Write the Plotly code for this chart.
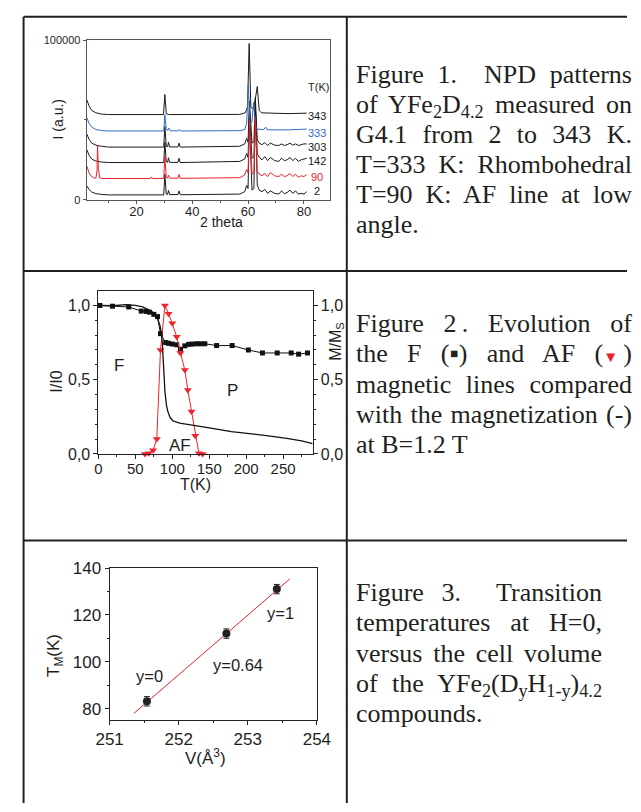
import json
import plotly.graph_objects as go

W, H = 641, 812

# ---------------- Figure 1 : NPD patterns of YFe2D4.2 ----------------
two_theta_low = [2.3, 3, 4, 5.5, 7.5, 10, 29.8, 30.2, 30.7, 31.2, 31.5, 31.9, 34.9, 35.3, 35.7, 52, 57,
                 58.8, 59.5, 60.0, 60.5, 61.4, 62.1, 62.6, 63.3, 64, 65, 66, 67, 68, 69.5, 71, 72, 73, 74,
                 75, 76, 77, 78, 79, 80, 81]
I_2K = [8600, 6500, 4800, 3800, 3300, 3000, 3000, 16000, 3500, 3300, 5800, 3200, 3200, 5500, 3100, 3200,
        3500, 5000, 9000, 7000, 52000, 6000, 7000, 60000, 9000, 6000, 5000, 6500, 4000, 5500, 4000, 3500,
        5500, 3800, 4500, 6000, 4000, 5500, 3500, 4000, 3500, 5000]
I_142K = [31300, 28000, 25500, 24200, 23600, 23300, 23300, 36000, 23800, 23500, 26300, 23400, 23400, 26000,
          23300, 23500, 24000, 25500, 29000, 26500, 56000, 26000, 27000, 58000, 29000, 26500, 25000, 27000,
          24500, 26500, 24500, 24000, 26000, 24500, 25000, 26500, 24500, 26000, 24000, 25000, 25500, 26000]
I_303K = [41100, 38000, 35500, 34200, 33500, 33000, 33000, 46000, 33500, 33200, 36000, 33100, 33100, 35500,
          33000, 33200, 33500, 35000, 38500, 36000, 62000, 35500, 36500, 64000, 37500, 35500, 34500, 35800,
          34000, 35500, 34200, 34000, 35000, 34000, 34500, 35500, 34200, 35000, 34000, 34500, 35000, 35000]
two_theta_90 = [2.3, 3, 3.8, 4.6, 5.5, 5.9, 6.1, 6.4, 6.9, 8, 25.0, 25.4, 25.8, 29.8, 30.2, 30.7, 31.2, 31.5,
                31.9, 34.9, 35.3, 35.7, 57, 58.8, 59.5, 60.0, 60.5, 61.4, 62.1, 62.6, 63.3, 64, 65, 66, 67,
                68, 69.5, 71, 72, 73, 74, 75, 76, 77, 78, 79, 80, 81]
I_90K = [21000, 17000, 14800, 13800, 13500, 18000, 33900, 19000, 13700, 13300, 13300, 14300, 13300, 13300,
         27000, 13800, 13600, 15500, 13500, 13500, 15800, 13400, 13800, 15500, 19000, 17000, 50000, 16000,
         17000, 52000, 18000, 16000, 15000, 16500, 14500, 17000, 15000, 14500, 16000, 14500, 15000, 16500,
         14500, 16000, 14000, 15000, 14500, 15700]
two_theta_333 = [2.3, 3, 4, 5.5, 7.5, 10, 29.8, 30.2, 30.7, 31.2, 31.6, 32.1, 35.0, 35.4, 35.8, 57, 58.8,
                 59.5, 60.1, 60.7, 61.4, 62.0, 62.6, 63.3, 65.6, 66.3, 67, 70, 75, 81]
I_333K = [51300, 48000, 45500, 44000, 43400, 43100, 43100, 53400, 44000, 43500, 45000, 43200, 43200, 44000,
          43100, 43300, 44000, 48000, 72000, 47000, 49000, 61000, 46000, 44200, 44000, 45500, 43800, 43800,
          43800, 44300]
two_theta_343 = [2.3, 3, 4, 5.5, 7.5, 10, 29.7, 30.2, 30.7, 31.5, 57, 59.0, 59.8, 60.4, 61.0, 61.8, 62.5,
                 63.3, 64.0, 64.8, 70, 75, 81]
I_343K = [62600, 59000, 56000, 54500, 53700, 53400, 53400, 66000, 54000, 53400, 53500, 54500, 58000, 98000,
          58000, 57000, 62000, 71000, 56000, 54500, 54200, 54000, 54300]
temp_labels = ["343", "333", "303", "142", "90", "2"]
temp_label_y = [52300, 42100, 33000, 24100, 14500, 5300]
temp_label_colors = ["#1a1a1a", "#2f6cc0", "#1a1a1a", "#1a1a1a", "#e8232b", "#1a1a1a"]

# ---------------- Figure 2 : F / AF lines and magnetization ----------------
T_F = [2, 19, 41, 58, 65, 69, 75, 80, 84, 91, 95, 100, 106, 111, 117, 122, 127, 133, 138, 144, 160, 181,
       203, 222, 242, 261, 271, 283]
I_F = [1.0, 0.995, 0.99, 0.962, 0.96, 0.955, 0.94, 0.925, 0.81, 0.75, 0.745, 0.74, 0.735, 0.705, 0.728,
       0.738, 0.74, 0.742, 0.742, 0.742, 0.73, 0.73, 0.70, 0.68, 0.68, 0.68, 0.672, 0.68]
T_AF = [63, 68, 74, 79, 84, 90, 95, 100, 106, 111, 117, 121, 126, 131, 136, 141]
I_AF = [0, 0.005, 0.025, 0.1, 0.7, 1.0, 0.945, 0.88, 0.79, 0.68, 0.565, 0.43, 0.286, 0.123, 0.004, 0]
T_M = [0, 20, 37, 50, 60, 67, 72, 76, 80, 83, 85, 86.5, 88, 90, 92, 94, 97, 101, 110, 120, 132, 150, 180,
       205, 230, 255, 275, 290]
M_rel = [1.0, 0.998, 1.005, 1.0, 0.99, 0.975, 0.96, 0.945, 0.91, 0.87, 0.82, 0.745, 0.6, 0.42, 0.33,
         0.285, 0.245, 0.222, 0.208, 0.2, 0.195, 0.176, 0.15, 0.137, 0.122, 0.104, 0.088, 0.07]
phase_labels = ["F", "P", "AF"]
phase_T = [28.5, 181, 110]
phase_I = [0.593, 0.43, 0.055]

# ---------------- Figure 3 : transition temperature vs cell volume ----------------
V_cell = [251.54, 252.69, 253.42]
T_trans = [83.1, 112.0, 131.0]
T_err = [2.0, 2.0, 2.0]
fit_V = [251.35, 253.61]
fit_T = [77.9, 135.4]
comp_labels = ["y=0", "y=0.64", "y=1"]
comp_V = [251.58, 252.86, 253.47]
comp_T = [93.8, 98.6, 121.0]

SANS = "Liberation Sans, Arial, sans-serif"
SERIF = "Liberation Serif, Times New Roman, serif"
INK = "#1e1e1e"


def px(x):
    return x / W


def py(y):
    return 1 - y / H


fig = go.Figure()

# Figure 1 traces
curves = [(two_theta_low, I_2K, "#1a1a1a"), (two_theta_low, I_142K, "#1a1a1a"),
          (two_theta_low, I_303K, "#1a1a1a"), (two_theta_343, I_343K, "#1a1a1a"),
          (two_theta_333, I_333K, "#2f6cc0"), (two_theta_90, I_90K, "#e8232b")]
for xs, ys, col in curves:
    fig.add_trace(go.Scatter(x=xs, y=ys, mode="lines", line=dict(color=col, width=1),
                             xaxis="x", yaxis="y", hoverinfo="skip"))

# Figure 2 traces
fig.add_trace(go.Scatter(x=T_M, y=M_rel, mode="lines", line=dict(color="#111", width=1.3),
                         xaxis="x2", yaxis="y4", hoverinfo="skip"))
fig.add_trace(go.Scatter(x=T_F, y=I_F, mode="lines+markers", line=dict(color="#111", width=1),
                         marker=dict(symbol="square", size=5, color="#111"),
                         xaxis="x2", yaxis="y2", cliponaxis=False, hoverinfo="skip"))
fig.add_trace(go.Scatter(x=T_AF, y=I_AF, mode="lines+markers", line=dict(color="#f0232b", width=1),
                         marker=dict(symbol="triangle-down", size=7, color="#f0232b"),
                         xaxis="x2", yaxis="y2", cliponaxis=False, hoverinfo="skip"))

# Figure 3 traces
fig.add_trace(go.Scatter(x=fit_V, y=fit_T, mode="lines", line=dict(color="#e8232b", width=1),
                         xaxis="x3", yaxis="y3", hoverinfo="skip"))
fig.add_trace(go.Scatter(x=V_cell, y=T_trans, mode="markers",
                         marker=dict(symbol="circle", size=8, color="#222"),
                         error_y=dict(type="data", array=T_err, color="#222", thickness=1, width=3),
                         xaxis="x3", yaxis="y3", hoverinfo="skip"))


def axis(domain, rng, tickvals, ticktext, minor_vals, fs, anchor, mirror=True, linecolor="#222",
         side=None, ticklen=4, standoff=0):
    d = dict(domain=domain, range=rng, anchor=anchor, showline=True, linecolor=linecolor, linewidth=1,
             mirror=mirror, ticks="outside", ticklen=ticklen, tickwidth=1, tickcolor=linecolor,
             tickvals=tickvals, ticktext=ticktext, showgrid=False, zeroline=False,
             tickfont=dict(family=SANS, size=fs, color=INK), ticklabelstandoff=standoff,
             minor=dict(tickvals=minor_vals, ticks="outside", ticklen=2, tickcolor=linecolor))
    if side:
        d["side"] = side
    return d


layout = dict(
    width=W, height=H, margin=dict(l=0, r=0, t=0, b=0), showlegend=False,
    paper_bgcolor="white", plot_bgcolor="white",
    xaxis=axis([px(76), px(330)], [2.2, 89.2], [20, 40, 60, 80], ["20", "40", "60", "80"],
               [10, 30, 50, 70], 13, "y", linecolor="#555", ticklen=3, standoff=-3),
    yaxis=axis([py(195), py(32)], [0, 100000], [0, 100000], ["0", "100000"], [50000], 11, "x",
               linecolor="#555", ticklen=3),
    xaxis2=axis([px(88.3), px(312.3)], [0, 290], [0, 50, 100, 150, 200, 250],
                ["0", "50", "100", "150", "200", "250"], [25, 75, 125, 175, 225, 275], 15, "y2",
                standoff=-3),
    yaxis2=axis([py(455), py(288)], [0, 1.1], [0, 0.5, 1.0], ["0,0", "0,5", "1,0"],
                [0.1, 0.2, 0.3, 0.4, 0.6, 0.7, 0.8, 0.9], 16, "x2", mirror=False),
    yaxis4=dict(axis([py(455), py(288)], [0, 1.1], [0, 0.5, 1.0], ["0,0", "0,5", "1,0"],
                     [0.1, 0.2, 0.3, 0.4, 0.6, 0.7, 0.8, 0.9], 16, "x2", mirror=False, side="right"),
                overlaying="y2"),
    xaxis3=axis([px(100), px(316.7)], [251, 254], [251, 252, 253, 254], ["251", "252", "253", "254"],
                [251.5, 252.5, 253.5], 17, "y3"),
    yaxis3=axis([py(726.7), py(571.7)], [75.3, 140], [80, 100, 120, 140], ["80", "100", "120", "140"],
                [90, 110, 130], 17, "x3"),
)
layout["yaxis4"].pop("domain")

ann = []


def add_text(text, x, y, size, xref="paper", yref="paper", color=INK, angle=0, family=SANS,
             xanchor="center", yanchor="middle", align="center"):
    ann.append(dict(text=text, x=x, y=y, xref=xref, yref=yref, showarrow=False, textangle=angle,
                    font=dict(family=family, size=size, color=color), xanchor=xanchor, yanchor=yanchor,
                    align=align, borderpad=0))


# Figure 1 labels
add_text("T(K)", 85.2, 70700, 11, "x", "y")
for lab, yv, col in zip(temp_labels, temp_label_y, temp_label_colors):
    add_text(lab, 84.6, yv, 11, "x", "y", color=col)
add_text("I (a.u.)", px(47), py(113), 14, angle=-90)
add_text("2 theta", px(217), py(218), 14)

# Figure 2 labels
for lab, tv, iv in zip(phase_labels, phase_T, phase_I):
    add_text(lab, tv, iv, 17, "x2", "y2")
add_text("I/I0", px(44), py(381), 16, angle=-90)
add_text("T(K)", px(189.5), py(486), 16)
add_text("M/M<sub>S</sub>", px(337), py(340), 16, angle=-90)

# Figure 3 labels
for lab, vv, tv in zip(comp_labels, comp_V, comp_T):
    add_text(lab, vv, tv, 16.5, "x3", "y3")
add_text("T<sub>M</sub>(K)", px(43.5), py(661), 17, angle=-90)
add_text("V(Å<sup>3</sup>)", px(200), py(765), 17)

# ---------------- captions (justified in the browser via word-spacing) ----------------
FS = 26
ASC = 0.891
TRI = "<span style='color:#e8232b;font-size:15px'>\u25bc</span>"
captions = [
    dict(left=357, right=633, base=74, step=30.8, lines=[
        "Figure 1.\u00a0 NPD patterns",
        "of YFe<sub>2</sub>D<sub>4.2</sub> measured on",
        "G4.1 from 2 to 343 K.",
        "T=333 K: Rhombohedral",
        "T=90 K: AF line at low",
        "angle."]),
    dict(left=357, right=633, base=329, step=31, lines=[
        "Figure 2\u2009. Evolution of",
        "the F (\u25aa) and AF (" + TRI + "\u2009)",
        "magnetic lines compared",
        "with the magnetization (-)",
        "at B=1.2 T"]),
    dict(left=357, right=603, base=604, step=31, lines=[
        "Figure 3.\u00a0 Transition",
        "temperatures at H=0,",
        "versus the cell volume",
        "of the YFe<sub>2</sub>(D<sub>y</sub>H<sub>1-y</sub>)<sub>4.2</sub>",
        "compounds."]),
]
targets = {}
for cap in captions:
    nl = len(cap["lines"])
    for i, line in enumerate(cap["lines"]):
        base = cap["base"] + i * cap["step"]
        top = base - ASC * FS
        add_text(line, px(cap["left"]), py(top), FS, family=SERIF, color="#231f20",
                 xanchor="left", yanchor="top", align="left")
        if i < nl - 1:
            targets[line] = cap["right"] - cap["left"]

layout["annotations"] = ann

# ---------------- table frame ----------------
LC = "#231f20"
shapes = []
for (x0, y0, x1, y1) in [(10, 8, 641, 8), (10, 8, 10, 812), (348, 8, 348, 812),
                         (10, 268, 641, 268), (10, 543.5, 641, 543.5)]:
    shapes.append(dict(type="line", xref="paper", yref="paper", x0=px(x0), y0=py(y0), x1=px(x1),
                       y1=py(y1), line=dict(color=LC, width=2)))
layout["shapes"] = shapes

fig.update_layout(**layout)

js = """
document.body.style.margin='0px';
document.body.style.overflow='hidden';
var TARGETS = %s;
document.querySelectorAll('text.annotation-text').forEach(function(t){
  var key = t.getAttribute('data-unformatted');
  if (key !== null && Object.prototype.hasOwnProperty.call(TARGETS, key)) {
    var plain = key.replace(/<[^>]*>/g, '');
    var n = (plain.match(/[ \\u00a0]/g) || []).length;
    if (n > 0) {
      var w = t.getComputedTextLength();
      var extra = (TARGETS[key] - w) / n;
      t.style.wordSpacing = extra.toFixed(2) + 'px';
    }
  }
});
""" % json.dumps(targets)

fig.write_html("out.html", config={"displayModeBar": False}, post_script=js)
